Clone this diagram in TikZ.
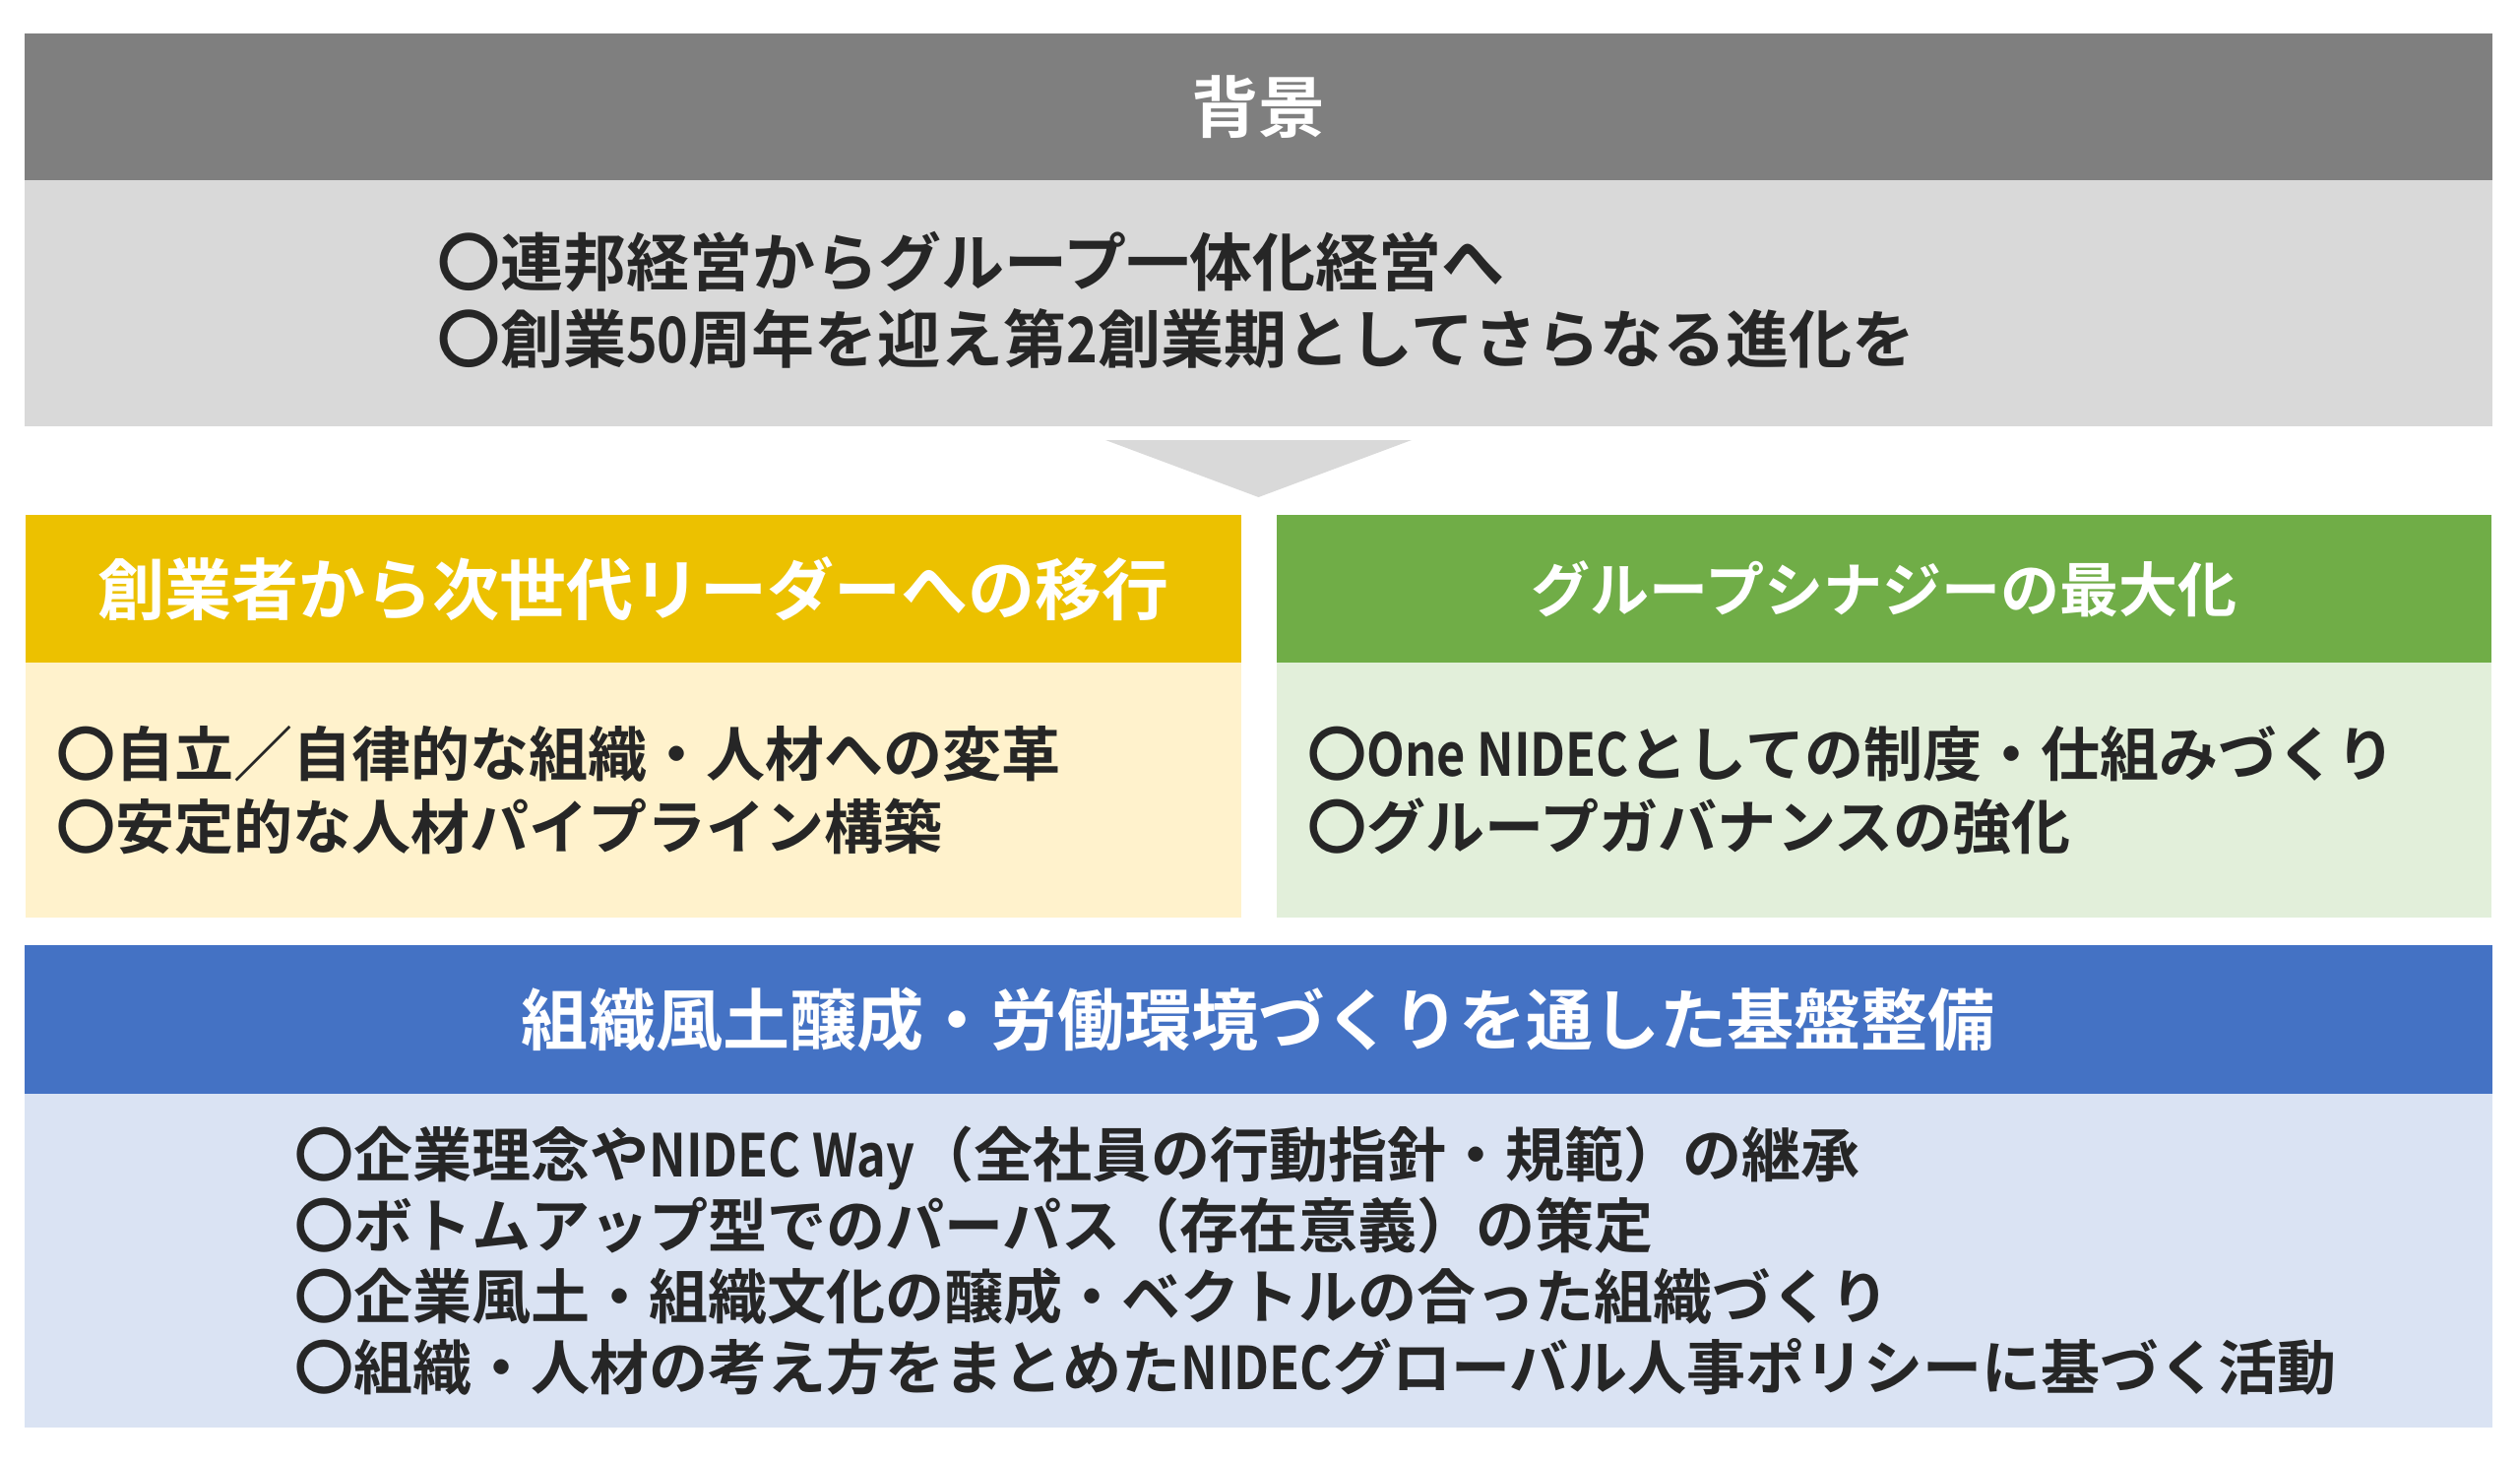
\documentclass[tikz,border=0pt]{standalone}
\usepackage{fontspec}
\setmainfont{Noto Sans CJK JP Bold}
\newfontfamily\latn{Noto Sans CJK JP Bold}[FakeStretch=0.84]
\newcommand\lat[1]{{\latn #1}}
\usetikzlibrary{positioning}
\definecolor{headgray}{HTML}{7F7F7F}
\definecolor{bodygray}{HTML}{D9D9D9}
\definecolor{headyellow}{HTML}{ECC100}
\definecolor{bodyyellow}{HTML}{FFF2CC}
\definecolor{headgreen}{HTML}{70AD47}
\definecolor{bodygreen}{HTML}{E2EFDA}
\definecolor{headblue}{HTML}{4472C4}
\definecolor{bodyblue}{HTML}{DAE3F3}
\definecolor{textdark}{HTML}{262626}
\tikzset{
  head/.style={minimum height=1.5cm, inner sep=0pt, outer sep=0pt, text=white,
    font=\fontsize{19.35}{23}\selectfont},
  panel/.style={inner sep=0pt, outer sep=0pt},
  item/.style={anchor=west, align=left, inner sep=0pt, text=textdark,
    font=\fontsize{17.07}{21.05}\selectfont}
}
\begin{document}
\begin{tikzpicture}[x=0.01cm,y=-0.01cm]
  \useasboundingbox (0,0) rectangle (2560,1485);
  % background
  \node[head, fill=headgray, minimum width=25.05cm, minimum height=1.49cm] (bg) at (1278.5,108.5) {背景};
  \node[panel, fill=bodygray, minimum width=25.05cm, minimum height=2.5cm, below=0pt of bg] (bgbody) {};
  \node[item, font=\fontsize{18.2}{22.2}\selectfont] (bgtext) at ([xshift=4.18cm,yshift=0.03cm]bgbody.west)
    {〇連邦経営からグループ一体化経営へ\\〇創業\lat{50}周年を迎え第\lat{2}創業期としてさらなる進化を};
  \fill[bodygray] (1123,447) -- (1434,447) -- (1278.5,505) -- cycle;
  % two themes
  \node[head, fill=headyellow, minimum width=12.35cm] (lead) at (643.5,598) {創業者から次世代リーダーへの移行};
  \node[panel, fill=bodyyellow, minimum width=12.35cm, minimum height=2.59cm, below=0pt of lead] (leadbody) {};
  \node[item] (leadtext) at ([xshift=0.31cm]leadbody.west)
    {〇自立／自律的な組織・人材への変革\\〇安定的な人材パイプライン構築};
  \node[head, fill=headgreen, minimum width=12.34cm, font=\fontsize{17.07}{21}\selectfont] (syn) at (1914,598) {グループシナジーの最大化};
  \node[panel, fill=bodygreen, minimum width=12.34cm, minimum height=2.59cm, below=0pt of syn] (synbody) {};
  \node[item] (syntext) at ([xshift=0.31cm]synbody.west)
    {〇\lat{One NIDEC}としての制度・仕組みづくり\\〇グループガバナンスの強化};
  % foundation
  \node[head, fill=headblue, minimum width=25.05cm, minimum height=1.51cm] (base) at (1278.5,1035.5) {組織風土醸成・労働環境づくりを通した基盤整備};
  \node[panel, fill=bodyblue, minimum width=25.05cm, minimum height=3.39cm, below=0pt of base] (basebody) {};
  \node[item, font=\fontsize{17.07}{20.5}\selectfont] (basetext) at ([xshift=2.73cm]basebody.west)
    {〇企業理念や\lat{NIDEC Way}（全社員の行動指針・規範）の継承\\
     〇ボトムアップ型でのパーパス（存在意義）の策定\\
     〇企業風土・組織文化の醸成・ベクトルの合った組織づくり\\
     〇組織・人材の考え方をまとめた\lat{NIDEC}グローバル人事ポリシーに基づく活動};
\end{tikzpicture}
\end{document}
